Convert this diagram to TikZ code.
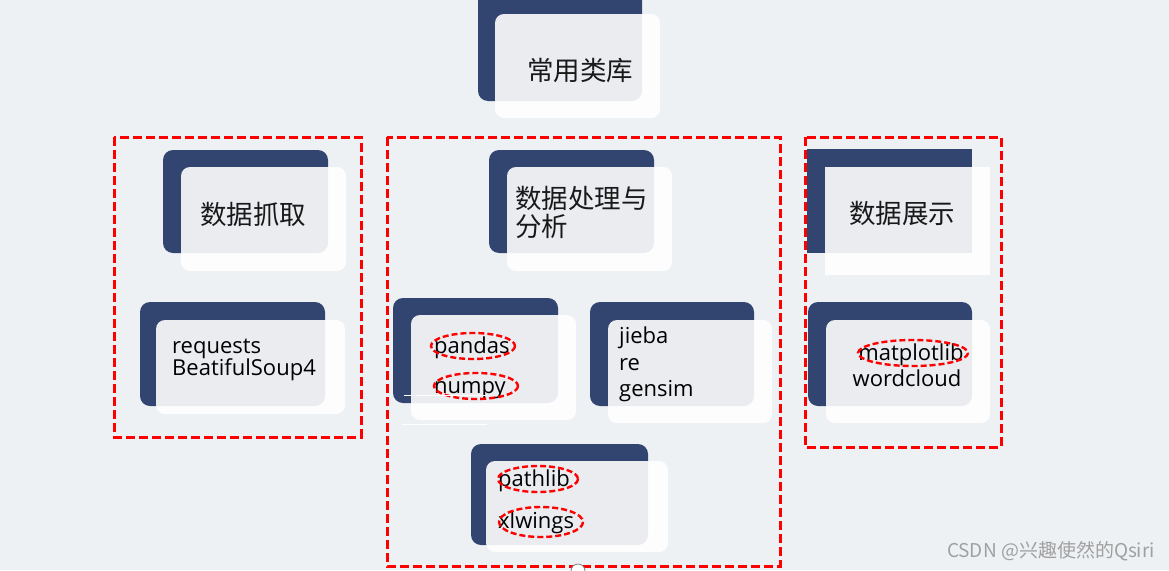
\documentclass[tikz,border=0pt]{standalone}
\usepackage{fontspec}
\setmainfont{Open Sans}
\newfontfamily\cjk{Noto Sans CJK SC}
\definecolor{bgc}{RGB}{238,241,244}
\definecolor{navyc}{RGB}{50,69,112}
\definecolor{wmc}{RGB}{160,160,160}
\tikzset{
  navyfill/.style={fill=navyc, rounded corners=10pt},
  navysharp/.style={fill=navyc},
  cardfill/.style={fill=white, fill opacity=0.9, rounded corners=9pt},
  cardsharp/.style={fill=white, fill opacity=0.9},
  groupbox/.style={draw=red, line width=3pt, dash pattern=on 9pt off 4pt},
  ring/.style={draw=red, line width=2.4pt, dash pattern=on 6pt off 3pt},
  cjktext/.style={font=\cjk\fontsize{26.5}{28}\selectfont, text=black!90, inner sep=0pt},
  lib/.style={font=\fontsize{22}{22}\selectfont, text=black, inner sep=0pt, anchor=base west},
  libc/.style={font=\fontsize{22}{22}\selectfont, text=black, inner sep=0pt, anchor=base},
}
\begin{document}
\begin{tikzpicture}[x=1pt,y=-1pt]
\fill[bgc] (0,0) rectangle (1169,570);
\useasboundingbox (0,0) rectangle (1169,570);

% top card
\fill[navyfill] (478,-12) rectangle (642,101);
\fill[cardfill] (495,14) rectangle (660,118);
\node[cjktext] (top) at (580,70) {常用类库};

% 数据抓取
\fill[navyfill] (163,150) rectangle (328,253);
\fill[cardfill] (181,167) rectangle (346,271);
\node[cjktext] (crawl) at (253,214) {数据抓取};

% 数据处理与分析
\fill[navyfill] (489,150) rectangle (654,253);
\fill[cardfill] (507,167) rectangle (672,271);
\node[cjktext, anchor=west] (proc1) at (515,198.5) {数据处理与};
\node[cjktext, anchor=west] (proc2) at (515,226.5) {分析};

% 数据展示
\fill[navysharp] (807,149) rectangle (972,253);
\fill[cardsharp] (825,167) rectangle (990,275);
\node[cjktext] (show) at (902,213.5) {数据展示};

% requests card
\fill[navyfill] (140,302) rectangle (325,406);
\fill[cardfill] (156,320) rectangle (345,414);
\node[lib] (requests) at (172,353) {requests};
\node[lib] (bs4) at (172,375) {BeatifulSoup4};

% pandas card
\fill[navyfill] (393,298) rectangle (558,403);
\fill[cardfill] (411,315) rectangle (576,420);
\node[lib] (pandas) at (434,353) {pandas};
\node[lib] (numpy) at (434,393) {numpy};
\draw[ring] (473,346) ellipse (42 and 13);
\draw[ring] (476,386) ellipse (42 and 13);
\draw[white, line width=1pt] (404,395) -- (486,395);
\draw[white, line width=1pt] (402,424) -- (487,424);

% jieba card
\fill[navyfill] (590,302) rectangle (754,406);
\fill[cardfill] (608,320) rectangle (772,423);
\node[lib] (jieba) at (619,343) {jieba};
\node[lib] (re) at (619,370) {re};
\node[lib] (gensim) at (619,396) {gensim};

% pathlib card
\fill[navyfill] (471,444) rectangle (648,545);
\fill[cardfill] (486,461) rectangle (668,552);
\node[lib] (pathlib) at (498,486) {pathlib};
\node[lib] (xlwings) at (498,528) {xlwings};
\draw[ring] (538,479) ellipse (40 and 13);
\draw[ring] (541,522) ellipse (42 and 15);

% matplotlib card
\fill[navyfill] (808,302) rectangle (972,406);
\fill[cardfill] (826,320) rectangle (990,423);
\node[libc] (mpl) at (911,360) {matplotlib};
\node[libc] (wc) at (907,386) {wordcloud};
\draw[ring] (913,353) ellipse (55 and 13);

% group boxes
\draw[groupbox] (114,137) rectangle (361,437);
\draw[groupbox] (387,137) rectangle (780,566);
\draw[groupbox] (805,137) rectangle (1001,447);

% small marker
\draw[fill=white, draw=gray, line width=0.8pt] (578,571) circle (7);

% watermark
\node[font=\cjk\fontsize{19}{19}\selectfont, text=wmc, anchor=east, inner sep=0pt] (wm) at (1155,551) {CSDN @兴趣使然的Qsiri};
\end{tikzpicture}
\end{document}
